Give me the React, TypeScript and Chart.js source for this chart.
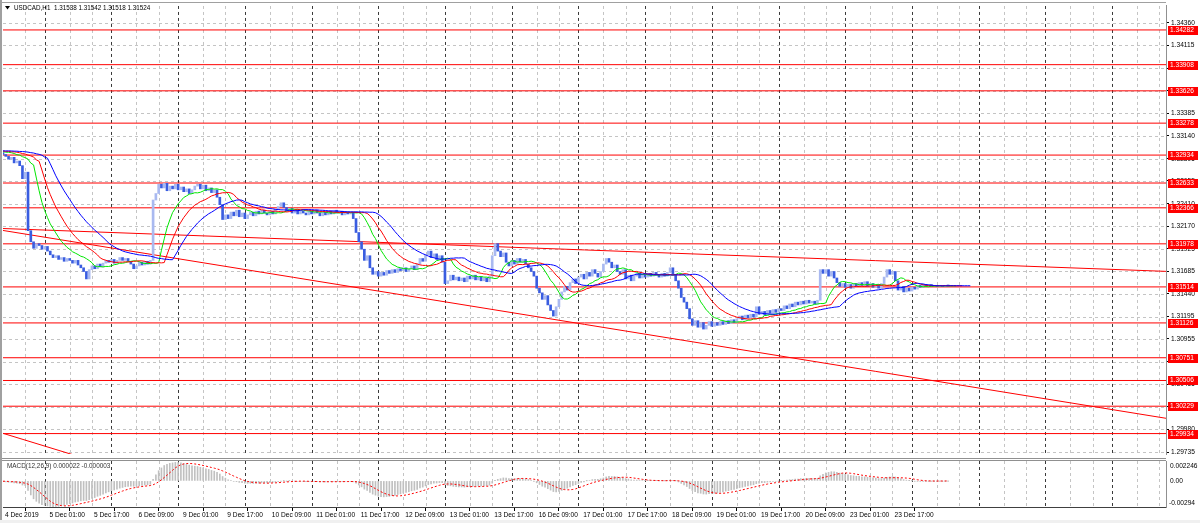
import React, { useEffect, useRef } from "react";
import { Chart, registerables } from "chart.js";
Chart.register(...registerables);

// ---------- DATA ----------
const historyCloses = [1.3298, 1.3296, 1.3299, 1.3297, 1.3295, 1.3297, 1.3294, 1.3296];

const closes = [
  1.3294, 1.3292, 1.3289, 1.3291, 1.3285, 1.3287, 1.3282, 1.3268, 1.3275, 1.3212,
  1.3200, 1.3193, 1.3198, 1.3196, 1.3192, 1.3195, 1.3190, 1.3186, 1.3183, 1.3185,
  1.3181, 1.3183, 1.3179, 1.3182, 1.3180, 1.3177, 1.3180, 1.3175, 1.3172, 1.3168,
  1.3160, 1.3170, 1.3174, 1.3171, 1.3176, 1.3173, 1.3177, 1.3180, 1.3178, 1.3181,
  1.3177, 1.3180, 1.3183, 1.3180, 1.3182, 1.3179, 1.3176, 1.3171, 1.3174, 1.3178,
  1.3175, 1.3179, 1.3176, 1.3180, 1.3245, 1.3252, 1.3262, 1.3258, 1.3263, 1.3255,
  1.3260, 1.3257, 1.3262, 1.3256, 1.3259, 1.3254, 1.3257, 1.3252, 1.3256, 1.3260,
  1.3262, 1.3257, 1.3261, 1.3255, 1.3258, 1.3253, 1.3256, 1.3248, 1.3240, 1.3224,
  1.3229, 1.3225, 1.3232, 1.3228, 1.3234, 1.3227, 1.3231, 1.3225, 1.3229, 1.3232,
  1.3228, 1.3233, 1.3230, 1.3234, 1.3231, 1.3229, 1.3233, 1.3230, 1.3235, 1.3238,
  1.3242, 1.3237, 1.3233, 1.3236, 1.3231, 1.3234, 1.3230, 1.3233, 1.3231, 1.3229,
  1.3233, 1.3230, 1.3234, 1.3231, 1.3228, 1.3232, 1.3229, 1.3233, 1.3230, 1.3234,
  1.3231, 1.3233, 1.3229, 1.3232, 1.3230, 1.3232, 1.3225, 1.3210, 1.3200, 1.3192,
  1.3180, 1.3185, 1.3172, 1.3165, 1.3168, 1.3163, 1.3167, 1.3164, 1.3169, 1.3166,
  1.3170, 1.3167, 1.3171, 1.3169, 1.3172, 1.3168, 1.3171, 1.3174, 1.3170, 1.3176,
  1.3182, 1.3179, 1.3186, 1.3190, 1.3183, 1.3187, 1.3181, 1.3185, 1.3178, 1.3155,
  1.3158, 1.3164, 1.3159, 1.3162, 1.3158, 1.3161, 1.3157, 1.3163, 1.3160, 1.3164,
  1.3159, 1.3162, 1.3158, 1.3161, 1.3157, 1.3163, 1.3185, 1.3198, 1.3190, 1.3184,
  1.3188, 1.3178, 1.3174, 1.3180, 1.3176, 1.3182, 1.3178, 1.3181, 1.3176, 1.3172,
  1.3168, 1.3163, 1.3150, 1.3145, 1.3138, 1.3142, 1.3132, 1.3126, 1.3120, 1.3130,
  1.3138, 1.3146, 1.3152, 1.3148, 1.3156, 1.3160, 1.3155, 1.3162, 1.3165, 1.3160,
  1.3167, 1.3163, 1.3170, 1.3166, 1.3162, 1.3168, 1.3176, 1.3182, 1.3178, 1.3172,
  1.3175, 1.3168, 1.3165, 1.3170, 1.3160, 1.3164, 1.3158, 1.3163, 1.3166, 1.3161,
  1.3165, 1.3162, 1.3166, 1.3163, 1.3167, 1.3164, 1.3162, 1.3166, 1.3163, 1.3167,
  1.3172, 1.3165, 1.3158, 1.3150, 1.3140, 1.3135, 1.3128, 1.3117, 1.3110, 1.3115,
  1.3108, 1.3113, 1.3106, 1.3110, 1.3114, 1.3109, 1.3113, 1.3110, 1.3114, 1.3111,
  1.3115, 1.3112, 1.3116, 1.3113, 1.3117, 1.3120, 1.3116, 1.3121, 1.3118, 1.3122,
  1.3119, 1.3130, 1.3122, 1.3125, 1.3121, 1.3126, 1.3123, 1.3127, 1.3124, 1.3128,
  1.3126, 1.3131, 1.3128, 1.3133, 1.3130, 1.3135, 1.3132, 1.3136, 1.3133, 1.3137,
  1.3134, 1.3136, 1.3133, 1.3137, 1.3170, 1.3166, 1.3170, 1.3163, 1.3168, 1.3161,
  1.3156, 1.3152, 1.3155, 1.3151, 1.3154, 1.3150, 1.3155, 1.3152, 1.3156, 1.3153,
  1.3157, 1.3152, 1.3155, 1.3151, 1.3154, 1.3150, 1.3155, 1.3162, 1.3170, 1.3165,
  1.3168, 1.3158, 1.3148, 1.3152, 1.3146, 1.3150, 1.3147, 1.3151, 1.3149, 1.3153,
  1.3151, 1.3154, 1.3152, 1.3154, 1.3152, 1.3153, 1.3152, 1.3153, 1.3152, 1.3153, 1.31524,
];

const levels = [
  1.34282, 1.33908, 1.33626, 1.33278, 1.32934, 1.32633, 1.32366,
  1.31978, 1.31514, 1.31126, 1.30751, 1.30506, 1.30229, 1.29934,
];

const priceTicks = [
  1.3436, 1.34115, 1.3387, 1.33625, 1.33385, 1.3314, 1.32895, 1.32655, 1.3241, 1.3217,
  1.31925, 1.31685, 1.3144, 1.31195, 1.30955, 1.3071, 1.30465, 1.30225, 1.2998, 1.29735,
];

// trend lines: [barStart, priceStart, barEnd, priceEnd]
const trendLines = [
  [0, 1.32143, 418.4, 1.316815],
  [0, 1.32122, 418.4, 1.300988],
  [0, 1.29937, 30, 1.29662],
];

const timeLabels = [
  "4 Dec 2019", "5 Dec 01:00", "5 Dec 17:00", "6 Dec 09:00", "9 Dec 01:00", "9 Dec 17:00",
  "10 Dec 09:00", "11 Dec 01:00", "11 Dec 17:00", "12 Dec 09:00", "13 Dec 01:00", "13 Dec 17:00",
  "16 Dec 09:00", "17 Dec 01:00", "17 Dec 17:00", "18 Dec 09:00", "19 Dec 01:00", "19 Dec 17:00",
  "20 Dec 09:00", "23 Dec 01:00", "23 Dec 17:00",
];
const timeLabelBars = timeLabels.map((_, k) => k * 16);

const macdMax = 0.002246;
const macdMin = -0.00294;

const X_MAX = 418.4;
const Y_MAX = 1.3454033;
const Y_MIN = 1.2971373;

const FONT = "Liberation Sans";
const FS = 6.6;
const BULL = "#a9b9f0";
const BEAR = "#3a5de0";

// ---------- indicators ----------
const full = [...historyCloses, ...closes];
const H = historyCloses.length;

function smma(src: number[], n: number) {
  const out: number[] = [];
  let v = src[0];
  for (let i = 0; i < src.length; i++) {
    v = i === 0 ? src[0] : (v * (n - 1) + src[i]) / n;
    out.push(v);
  }
  return out;
}
function ema(src: number[], n: number) {
  const k = 2 / (n + 1);
  const out: number[] = [];
  let v = src[0];
  for (let i = 0; i < src.length; i++) {
    v = i === 0 ? src[0] : src[i] * k + v * (1 - k);
    out.push(v);
  }
  return out;
}
function shifted(n: number, shift: number) {
  const s = smma(full, n);
  const pts: { x: number; y: number }[] = [];
  for (let j = 0; j < s.length; j++) {
    const b = j - H + shift;
    if (b >= 0) pts.push({ x: b, y: s[j] });
  }
  return pts;
}

const e12 = ema(full, 12);
const e26 = ema(full, 26);
const macdMain = full.map((_, j) => e12[j] - e26[j]);
const macdSig = macdMain.map((_, j) => {
  const a = Math.max(0, j - 8);
  let s = 0;
  for (let k = a; k <= j; k++) s += macdMain[k];
  return s / (j - a + 1);
});

// ---------- plugins ----------
const gridPlugin = {
  id: "mtGrid",
  beforeDatasetsDraw(chart: any, _args: any, opts: any) {
    const { ctx, chartArea: a, scales } = chart;
    const xs = scales.x;
    ctx.save();
    ctx.beginPath();
    ctx.rect(a.left, a.top, a.right - a.left, a.bottom - a.top);
    ctx.clip();
    ctx.lineWidth = 1;
    ctx.setLineDash([3, 3]);
    ctx.strokeStyle = "#c4c4c4";
    if (opts && opts.hTicks) {
      for (const v of opts.hTicks) {
        const y = Math.round(scales.y.getPixelForValue(v)) + 0.5;
        ctx.beginPath();
        ctx.moveTo(a.left, y);
        ctx.lineTo(a.right, y);
        ctx.stroke();
      }
    }
    for (let i = 8; i <= X_MAX; i += 8) {
      if (i % 24 === 16) continue;
      const x = Math.round(xs.getPixelForValue(i)) + 0.5;
      ctx.beginPath();
      ctx.moveTo(x, a.top);
      ctx.lineTo(x, a.bottom);
      ctx.stroke();
    }
    ctx.strokeStyle = "#3a3a3a";
    for (let i = 15; i <= X_MAX; i += 24) {
      const x = Math.round(xs.getPixelForValue(i)) + 0.5;
      ctx.beginPath();
      ctx.moveTo(x, a.top);
      ctx.lineTo(x, a.bottom);
      ctx.stroke();
    }
    ctx.restore();
  },
};

const priceBoxPlugin = {
  id: "priceBoxes",
  afterDraw(chart: any) {
    const { ctx, chartArea: a, scales } = chart;
    ctx.save();
    ctx.font = `${FS}px "${FONT}"`;
    ctx.textBaseline = "middle";
    ctx.textAlign = "left";
    for (const L of levels) {
      const y = Math.round(scales.y.getPixelForValue(L));
      ctx.fillStyle = "#ff0000";
      ctx.fillRect(a.right + 2, y - 4, 30, 9);
      ctx.fillStyle = "#ffffff";
      ctx.fillText(L.toFixed(5), a.right + 4, y + 0.5);
    }
    // title
    ctx.fillStyle = "#000";
    ctx.beginPath();
    ctx.moveTo(5, 6);
    ctx.lineTo(10, 6);
    ctx.lineTo(7.5, 9.5);
    ctx.closePath();
    ctx.fill();
    ctx.font = `6.3px "${FONT}"`;
    ctx.fillText("USDCAD,H1  1.31538 1.31542 1.31518 1.31524", 14, 8.5);
    ctx.restore();
  },
};

const macdLabelPlugin = {
  id: "macdLabels",
  afterDraw(chart: any) {
    const { ctx, chartArea: a, scales } = chart;
    ctx.save();
    ctx.font = `${FS}px "${FONT}"`;
    ctx.textBaseline = "middle";
    ctx.textAlign = "left";
    ctx.fillStyle = "#000";
    const ys = scales.y;
    ctx.fillText(String(macdMax), a.right + 4, ys.getPixelForValue(macdMax) + 5);
    ctx.fillText("0.00", a.right + 4, ys.getPixelForValue(0));
    ctx.fillText(String(macdMin), a.right + 3, ys.getPixelForValue(macdMin) - 4);
    ctx.fillStyle = "#333";
    ctx.font = `6.4px "${FONT}"`;
    ctx.fillText("MACD(12,26,9) 0.000022 -0.000003", 7, a.top + 5);
    ctx.restore();
  },
};

export default function App() {
  const mainRef = useRef<HTMLCanvasElement | null>(null);
  const macdRef = useRef<HTMLCanvasElement | null>(null);

  useEffect(() => {
    document.body.style.margin = "0";

    const candleData = closes.map((c, i) => ({
      x: i,
      y: [i === 0 ? historyCloses[historyCloses.length - 1] : closes[i - 1], c],
    }));
    const candleColors = closes.map((c, i) => {
      const o = i === 0 ? historyCloses[historyCloses.length - 1] : closes[i - 1];
      return c >= o ? BULL : BEAR;
    });

    const levelSets = levels.map((L) => ({
      type: "line",
      data: [
        { x: 0, y: L },
        { x: X_MAX, y: L },
      ],
      borderColor: "#ff0000",
      borderWidth: 1,
      pointRadius: 0,
      order: 5,
    }));
    const trendSets = trendLines.map((t) => ({
      type: "line",
      data: [
        { x: t[0], y: t[1] },
        { x: t[2], y: t[3] },
      ],
      borderColor: "#ff0000",
      borderWidth: 1,
      pointRadius: 0,
      order: 5,
    }));

    const mainChart = new Chart(mainRef.current as HTMLCanvasElement, {
      type: "line",
      data: {
        datasets: [
          ...levelSets,
          ...trendSets,
          {
            type: "bar",
            data: candleData,
            backgroundColor: candleColors,
            borderWidth: 0,
            barThickness: 2,
            minBarLength: 1,
            grouped: false,
            order: 3,
          },
          {
            type: "line",
            data: shifted(13, 8),
            borderColor: "#0000ff",
            borderWidth: 1,
            pointRadius: 0,
            order: 1,
          },
          {
            type: "line",
            data: shifted(8, 5),
            borderColor: "#ff0000",
            borderWidth: 1,
            pointRadius: 0,
            order: 1,
          },
          {
            type: "line",
            data: shifted(5, 3),
            borderColor: "#00e600",
            borderWidth: 1,
            pointRadius: 0,
            order: 1,
          },
        ] as any,
      },
      options: {
        animation: false,
        responsive: false,
        events: [],
        layout: { padding: { left: 3, top: 3, right: 0, bottom: 2 } },
        plugins: {
          legend: { display: false },
          tooltip: { enabled: false },
          mtGrid: { hTicks: priceTicks },
        } as any,
        scales: {
          x: { type: "linear", min: 0, max: X_MAX, display: false, offset: false },
          y: {
            type: "linear",
            position: "right",
            min: Y_MIN,
            max: Y_MAX,
            afterBuildTicks: (ax: any) => {
              ax.ticks = priceTicks.map((v) => ({ value: v }));
            },
            afterFit: (ax: any) => {
              ax.width = 34;
            },
            ticks: {
              autoSkip: false,
              font: { family: FONT, size: FS },
              color: "#000",
              padding: 2,
              callback: (v: any) => Number(v).toFixed(5),
            },
            grid: { drawOnChartArea: false, drawTicks: true, tickLength: 3, color: "#000" },
            border: { display: true, color: "#909090" },
          },
        },
      } as any,
      plugins: [gridPlugin, priceBoxPlugin] as any,
    });

    const macdChart = new Chart(macdRef.current as HTMLCanvasElement, {
      type: "line",
      data: {
        datasets: [
          {
            type: "line",
            data: closes.map((_, i) => ({ x: i, y: macdSig[i + H] })),
            borderColor: "#ff0000",
            borderWidth: 1,
            borderDash: [2, 2],
            pointRadius: 0,
            order: 1,
          },
          {
            type: "bar",
            data: closes.map((_, i) => ({ x: i, y: macdMain[i + H] })),
            backgroundColor: "#c0c0c0",
            borderWidth: 0,
            barThickness: 1,
            grouped: false,
            order: 2,
          },
        ] as any,
      },
      options: {
        animation: false,
        responsive: false,
        events: [],
        layout: { padding: { left: 3, top: 2, right: 0, bottom: 0 } },
        plugins: {
          legend: { display: false },
          tooltip: { enabled: false },
        },
        scales: {
          x: {
            type: "linear",
            min: 0,
            max: X_MAX,
            offset: false,
            afterBuildTicks: (ax: any) => {
              ax.ticks = timeLabelBars.map((v) => ({ value: v }));
            },
            afterFit: (ax: any) => {
              ax.height = 16;
            },
            ticks: {
              autoSkip: false,
              maxRotation: 0,
              minRotation: 0,
              align: "start",
              labelOffset: 2,
              padding: 0,
              font: { family: FONT, size: FS },
              color: "#000",
              callback: (v: any) => timeLabels[timeLabelBars.indexOf(Number(v))],
            },
            grid: { drawOnChartArea: false, drawTicks: true, tickLength: 4, color: "#000" },
            border: { display: true, color: "#404040" },
          },
          y: {
            type: "linear",
            position: "right",
            min: macdMin,
            max: macdMax,
            afterFit: (ax: any) => {
              ax.width = 34;
            },
            ticks: { display: false },
            grid: { drawOnChartArea: false, drawTicks: false },
            border: { display: true, color: "#909090" },
          },
        },
      } as any,
      plugins: [gridPlugin, macdLabelPlugin] as any,
    });

    return () => {
      mainChart.destroy();
      macdChart.destroy();
    };
  }, []);

  return (
    <div style={{ position: "relative", width: 1200, height: 523, background: "#ffffff", overflow: "hidden" }}>
      <canvas ref={mainRef} width={1200} height={460} style={{ position: "absolute", left: 0, top: 0 }} />
      <canvas ref={macdRef} width={1200} height={64} style={{ position: "absolute", left: 0, top: 459 }} />
      <div style={{ position: "absolute", left: 0, top: 0, width: 2, height: 523, background: "#a0a0a0" }} />
      <div style={{ position: "absolute", left: 2, top: 2, width: 1164, height: 1, background: "#a0a0a0" }} />
      <div style={{ position: "absolute", left: 2, top: 458, width: 1164, height: 1, background: "#909090" }} />
      <div style={{ position: "absolute", left: 2, top: 460, width: 1164, height: 1, background: "#909090" }} />
      <div style={{ position: "absolute", left: 0, top: 520, width: 1200, height: 3, background: "#f0f0f0" }} />
    </div>
  );
}
